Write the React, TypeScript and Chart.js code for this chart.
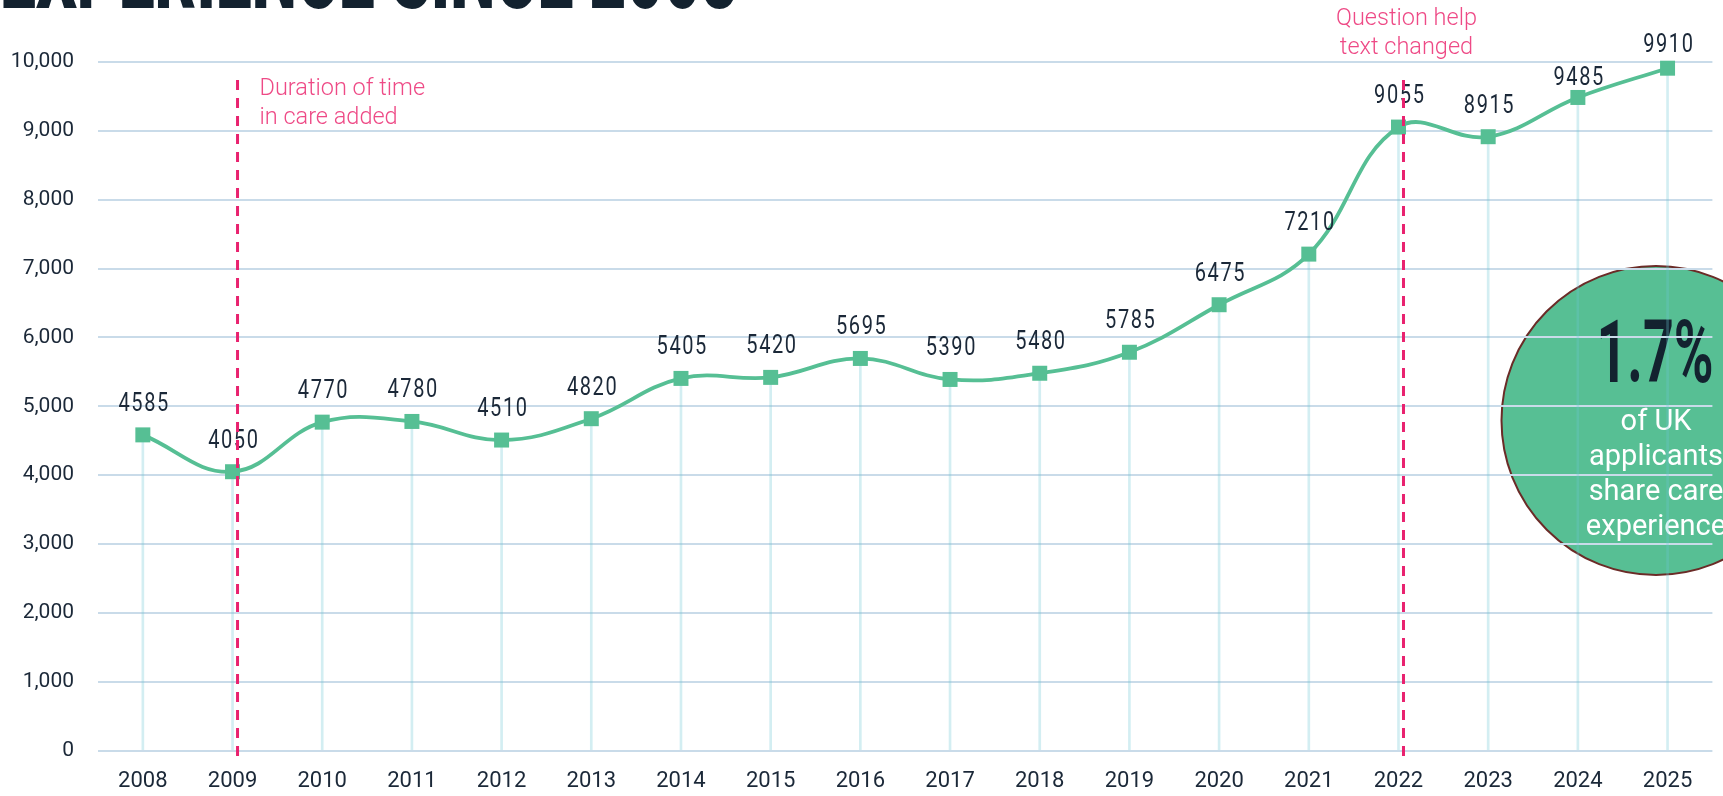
import { useEffect, useRef } from "react";
import { Chart, registerables } from "chart.js";

Chart.register(...registerables);

// ---- data ----
const years = ["2008", "2009", "2010", "2011", "2012", "2013", "2014", "2015", "2016", "2017", "2018", "2019", "2020", "2021", "2022", "2023", "2024", "2025"];
const applicants = [4585, 4050, 4770, 4780, 4510, 4820, 5405, 5420, 5695, 5390, 5480, 5785, 6475, 7210, 9055, 8915, 9485, 9910];
const yMin = 0;
const yMax = 10000;
const yStep = 1000;
const markerYears = ["2009", "2022"];
const markerNotes = [
  ["Duration of time", "in care added"],
  ["Question help", "text changed"],
];
const titleText = "EXPERIENCE SINCE 2008";
const statValue = "1.7%";
const statLines = ["of UK", "applicants", "share care", "experience"];

// ---- styles ----
const GREEN = "#56bf94";
const DARK = "#1b2838";
const PINK_LINE = "#e9226f";
const PINK_TEXT = "#ee4a86";
const GRID = "#c9dbe9";
const DROP = "rgba(110, 200, 212, 0.3)";
// extra downward nudge (px) of the last two value labels, as placed in the original
const labelNudge = [0, 0, 0, 0, 0, 0, 0, 0, 0, 0, 0, 0, 0, 0, 0, 0, 12, 8];

const overlayPlugin = {
  id: "overlay",
  beforeDraw(chart: any) {
    const ctx: CanvasRenderingContext2D = chart.ctx;
    // clipped title at top
    ctx.save();
    ctx.fillStyle = "#13222f";
    ctx.font = "900 100px Roboto";
    ctx.textBaseline = "alphabetic";
    ctx.textAlign = "left";
    const tw = ctx.measureText(titleText).width;
    ctx.translate(0, 8);
    ctx.scale(738 / tw, 1);
    ctx.fillText(titleText, 0, 0);
    ctx.restore();

    // stat circle (drawn below grid)
    const cx = 1656;
    const cy = 420.5;
    const r = 154.5;
    ctx.save();
    ctx.beginPath();
    ctx.arc(cx, cy, r, 0, Math.PI * 2);
    ctx.fillStyle = "#57bf94";
    ctx.fill();
    ctx.lineWidth = 2;
    ctx.strokeStyle = "#6b2b27";
    ctx.stroke();

    ctx.fillStyle = "#13222f";
    ctx.font = "700 87px Roboto";
    ctx.textAlign = "left";
    ctx.textBaseline = "alphabetic";
    const sw = ctx.measureText(statValue).width;
    const targetW = 117;
    ctx.save();
    ctx.translate(cx - 1 - targetW / 2, 382);
    ctx.scale(targetW / sw, 1);
    ctx.fillText(statValue, 0, 0);
    ctx.restore();

    ctx.fillStyle = "#ffffff";
    ctx.font = "400 29px Roboto";
    ctx.textAlign = "center";
    statLines.forEach((line, i) => {
      ctx.fillText(line, cx, 430 + i * 35);
    });
    ctx.restore();
  },
  afterDatasetsDraw(chart: any) {
    const ctx: CanvasRenderingContext2D = chart.ctx;
    const meta = chart.getDatasetMeta(0);
    const xScale = chart.scales.x;
    const area = chart.chartArea;

    // value labels (condensed look)
    ctx.save();
    ctx.fillStyle = DARK;
    ctx.font = "400 25px Roboto";
    ctx.textAlign = "left";
    ctx.textBaseline = "alphabetic";
    (ctx as any).letterSpacing = "2px";
    const sx = 0.8;
    meta.data.forEach((pt: any, i: number) => {
      const txt = String(applicants[i]);
      const w = ctx.measureText(txt).width - 2;
      ctx.save();
      ctx.translate(pt.x + 0.5 - (w * sx) / 2, pt.y - 24 + labelNudge[i]);
      ctx.scale(sx, 1);
      ctx.fillText(txt, 0, 0);
      ctx.restore();
    });
    ctx.restore();

    // dashed markers and notes
    markerYears.forEach((yr, k) => {
      const idx = years.indexOf(yr);
      const x = xScale.getPixelForValue(idx) + 5;
      ctx.save();
      ctx.strokeStyle = PINK_LINE;
      ctx.lineWidth = 3;
      ctx.setLineDash([10, 8]);
      ctx.beginPath();
      ctx.moveTo(x, area.top + 18);
      ctx.lineTo(x, area.bottom + 13);
      ctx.stroke();
      ctx.restore();

      ctx.save();
      ctx.fillStyle = PINK_TEXT;
      ctx.font = "300 23.5px Roboto";
      ctx.textBaseline = "alphabetic";
      const lines = markerNotes[k];
      if (k === 0) {
        ctx.textAlign = "left";
        lines.forEach((l, j) => ctx.fillText(l, x + 22, area.top + 33 + j * 29));
      } else {
        ctx.textAlign = "center";
        lines.forEach((l, j) => ctx.fillText(l, x + 3, area.top - 37 + j * 29));
      }
      ctx.restore();
    });
  },
};

export default function App() {
  const ref = useRef<HTMLCanvasElement | null>(null);

  useEffect(() => {
    if (!ref.current) return;
    const chart = new Chart(ref.current, {
      type: "line",
      data: {
        labels: years,
        datasets: [
          {
            type: "line",
            label: "Applicants",
            data: applicants,
            borderColor: GREEN,
            backgroundColor: GREEN,
            borderWidth: 3.8,
            tension: 0.4,
            pointStyle: "rect",
            pointRadius: 10.6,
            pointBorderWidth: 0,
            pointBackgroundColor: GREEN,
            order: 0,
            clip: false as any,
          },
          {
            type: "bar",
            label: "drop",
            data: applicants,
            backgroundColor: DROP,
            barThickness: 2,
            order: 1,
          } as any,
        ],
      },
      options: {
        responsive: false,
        animation: false,
        devicePixelRatio: 1,
        events: [],
        layout: { padding: { top: 62, right: 9, left: 0, bottom: 0 } },
        plugins: {
          legend: { display: false },
          tooltip: { enabled: false },
          title: { display: false },
        },
        scales: {
          x: {
            type: "category",
            offset: true,
            grid: { display: false, drawTicks: false },
            border: { display: false },
            ticks: {
              color: DARK,
              font: { family: "Roboto", size: 22 },
              padding: 18,
              maxRotation: 0,
              autoSkip: false,
            },
            afterFit: (s: any) => {
              s.height = 45.4;
            },
          },
          y: {
            min: yMin,
            max: yMax,
            grid: { color: GRID, lineWidth: 2, drawTicks: false },
            border: { display: false },
            ticks: {
              stepSize: yStep,
              color: DARK,
              font: { family: "Roboto", size: 21 },
              padding: 24,
              callback: (v: any) => Number(v).toLocaleString("en-US"),
            },
            afterFit: (s: any) => {
              s.width = 98;
            },
          },
        },
      },
      plugins: [overlayPlugin],
    });
    return () => chart.destroy();
  }, []);

  return (
    <div style={{ position: "absolute", left: 0, top: 0, width: 1723, height: 796, background: "#ffffff", overflow: "hidden" }}>
      <canvas ref={ref} width={1723} height={796} style={{ display: "block", width: 1723, height: 796 }} />
    </div>
  );
}
